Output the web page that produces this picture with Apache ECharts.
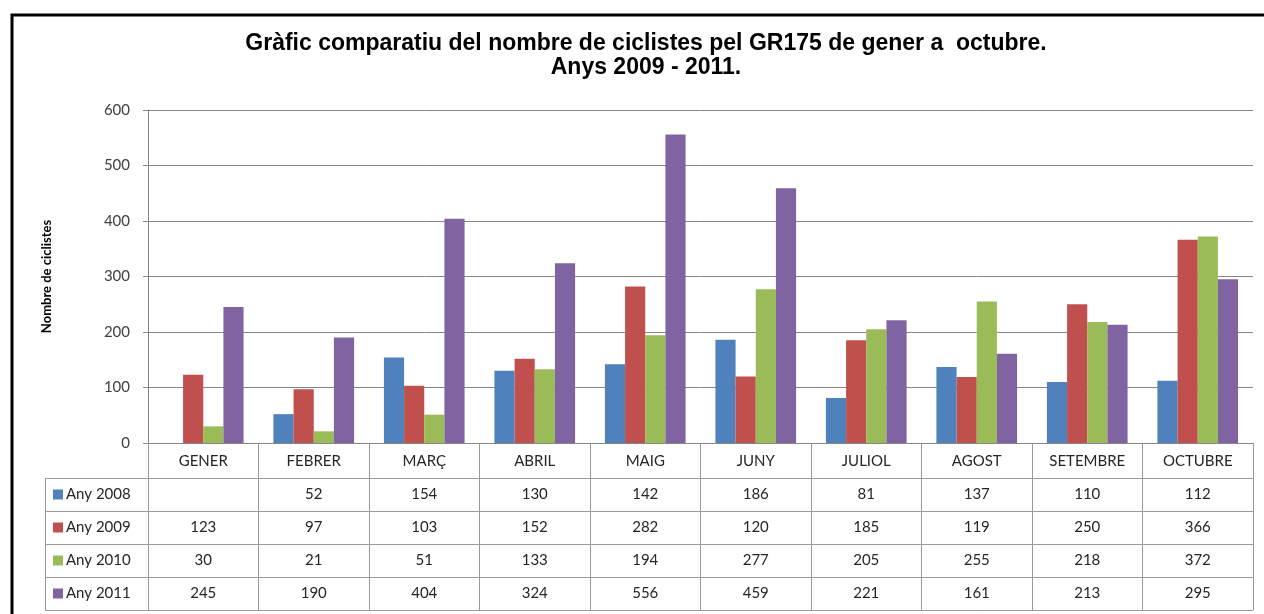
<!DOCTYPE html>
<html>
<head>
<meta charset="utf-8">
<script src="https://cdn.jsdelivr.net/npm/echarts@6/dist/echarts.min.js"></script>
<style>
  html, body { margin: 0; padding: 0; background: #fff; }
  #chart { width: 1264px; height: 614px; }
</style>
</head>
<body>
<div id="chart"></div>
<script>
// mesos (categories)
const mesos = ['GENER', 'FEBRER', 'MARÇ', 'ABRIL', 'MAIG', 'JUNY', 'JULIOL', 'AGOST', 'SETEMBRE', 'OCTUBRE']
// nombre de ciclistes per any
const any2008 = [null, 52, 154, 130, 142, 186, 81, 137, 110, 112]
const any2009 = [123, 97, 103, 152, 282, 120, 185, 119, 250, 366]
const any2010 = [30, 21, 51, 133, 194, 277, 205, 255, 218, 372]
const any2011 = [245, 190, 404, 324, 556, 459, 221, 161, 213, 295]
const noms = ['Any 2008', 'Any 2009', 'Any 2010', 'Any 2011']
const colors = ['#4F81BD', '#C0504D', '#9BBB59', '#8064A2']
const yTicks = [0, 100, 200, 300, 400, 500, 600]

const files = [any2008, any2009, any2010, any2011]

const chart = echarts.init(document.getElementById('chart'))

// geometria de la taula
const gridLeft = 148
const gridRight = 11
const gridBottom = 171
const headerH = 35
const rowH = 33
const lineCol = '#9a9a9a'
const txtFont = 'Lato'

// eixos x: capçalera (mesos) + una fila per any + línia final
const xAxes = [{
  type: 'category',
  data: mesos,
  position: 'bottom',
  axisLine: { lineStyle: { color: '#868686' } },
  axisTick: { show: true, interval: 0, length: headerH, lineStyle: { color: lineCol } },
  axisLabel: { interval: 0, margin: 11, color: '#262626', fontFamily: txtFont, fontSize: 15 }
}]
files.forEach((fila, i) => {
  xAxes.push({
    type: 'category',
    data: mesos,
    position: 'bottom',
    offset: headerH + rowH * i,
    axisLine: { lineStyle: { color: lineCol } },
    axisTick: { show: true, interval: 0, length: rowH, lineStyle: { color: lineCol } },
    axisLabel: {
      interval: 0,
      margin: 9,
      color: '#262626',
      fontFamily: txtFont,
      fontSize: 15,
      formatter: (v, idx) => (fila[idx] == null ? '' : String(fila[idx]))
    }
  })
})
xAxes.push({
  type: 'category',
  data: mesos,
  position: 'bottom',
  offset: headerH + rowH * 4,
  axisLine: { lineStyle: { color: lineCol } },
  axisTick: { show: false },
  axisLabel: { show: false }
})

// marc de la columna de llegenda
const tableTop = 614 - gridBottom + headerH
const graphics = [{
  type: 'rect',
  shape: { x: 12, y: 15, width: 1400, height: 800 },
  style: { fill: 'none', stroke: '#000', lineWidth: 3 },
  silent: true
}, {
  type: 'line',
  shape: { x1: 45.5, y1: tableTop, x2: 45.5, y2: tableTop + rowH * 4 },
  style: { stroke: lineCol, lineWidth: 1 },
  silent: true
}]
for (let i = 0; i <= 4; i++) {
  const y = tableTop + rowH * i + 0.5
  graphics.push({
    type: 'line',
    shape: { x1: 45, y1: y, x2: gridLeft, y2: y },
    style: { stroke: lineCol, lineWidth: 1 },
    silent: true
  })
}

const option = {
  backgroundColor: '#fff',
  animation: false,
  color: colors,
  title: {
    text: 'Gràfic comparatiu del nombre de ciclistes pel GR175 de gener a  octubre.\nAnys 2009 - 2011.',
    left: 641,
    top: 27,
    textAlign: 'center',
    textStyle: {
      fontFamily: 'Liberation Sans',
      fontWeight: 'bold',
      fontSize: 23,
      lineHeight: 24,
      color: '#000'
    }
  },
  legend: {
    data: noms,
    orient: 'vertical',
    left: 48,
    top: tableTop + 4,
    icon: 'rect',
    itemWidth: 10,
    itemHeight: 10,
    itemGap: 18,
    textStyle: { fontFamily: txtFont, fontSize: 15, color: '#262626', padding: [0, 0, 0, -2] },
    selectedMode: false
  },
  grid: {
    left: gridLeft,
    right: gridRight,
    top: 110,
    bottom: gridBottom
  },
  xAxis: xAxes,
  yAxis: {
    type: 'value',
    min: yTicks[0],
    max: yTicks[yTicks.length - 1],
    interval: 100,
    name: 'Nombre de ciclistes',
    nameLocation: 'middle',
    nameRotate: 90,
    nameGap: 95,
    nameTextStyle: { fontFamily: txtFont, fontWeight: 'bold', fontSize: 13, color: '#000' },
    axisLine: { show: true, lineStyle: { color: '#868686' } },
    axisTick: { show: true, length: 5, lineStyle: { color: '#868686' } },
    axisLabel: { margin: 18, color: '#404040', fontFamily: txtFont, fontSize: 15 },
    splitLine: { lineStyle: { color: '#868686' } }
  },
  series: files.map((fila, i) => ({
    name: noms[i],
    type: 'bar',
    xAxisIndex: 0,
    data: fila,
    barGap: 0,
    barCategoryGap: '27%',
    itemStyle: { color: colors[i] }
  })),
  graphic: graphics
}

chart.setOption(option)
</script>
</body>
</html>
